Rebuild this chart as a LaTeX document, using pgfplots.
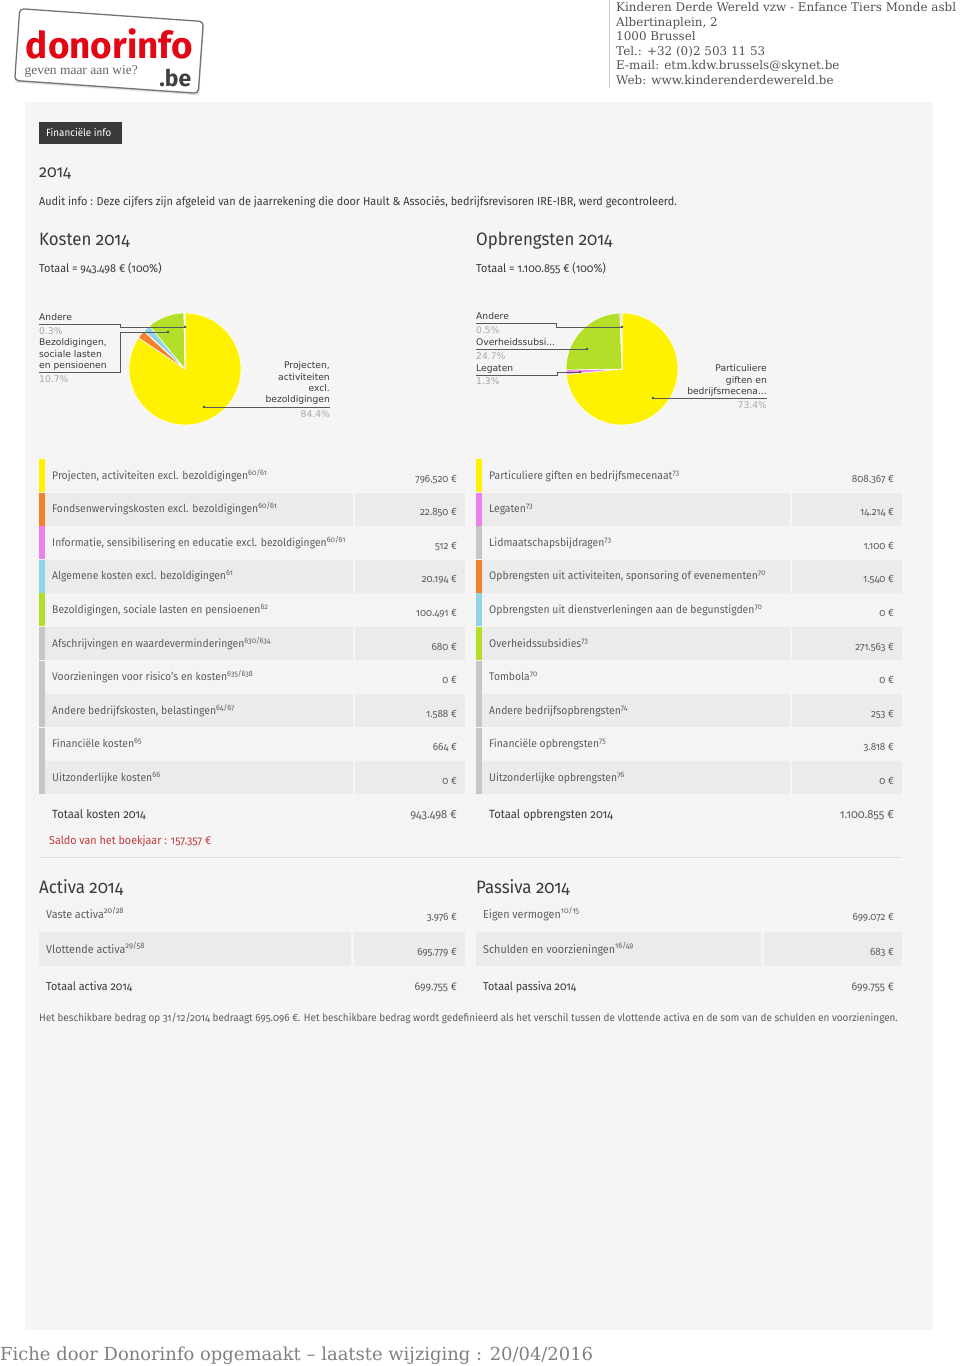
\documentclass[border=0pt]{standalone}
\usepackage{pgfplots}
\pgfplotsset{compat=1.18}
\usepackage{fontspec}
\setmainfont{Fira Sans}[Numbers=OldStyle, FakeStretch=0.94]
\newfontfamily\piefont{DejaVu Sans}
\newfontfamily\seriffont{DejaVu Serif}
\newfontfamily\logofont{Fira Sans}
\newfontfamily\logoserif{Liberation Serif}
\definecolor{panel}{HTML}{F5F5F5}
\definecolor{rowlight}{HTML}{F4F4F4}
\definecolor{rowdark}{HTML}{EBEBEB}
\definecolor{txt}{HTML}{5E5E5E}
\definecolor{dark}{HTML}{3A3A3A}
\definecolor{pyellow}{HTML}{FFF200}
\definecolor{porange}{HTML}{F5802A}
\definecolor{ppink}{HTML}{EE80EE}
\definecolor{pblue}{HTML}{90D4E6}
\definecolor{pgreen}{HTML}{B3DF28}
\definecolor{pgray}{HTML}{C6C6C6}
\definecolor{pandere}{HTML}{DADADA}
\definecolor{logored}{HTML}{E30613}
\definecolor{saldo}{HTML}{C43A3A}
\newcommand\sups[1]{\textsuperscript{#1}}
\newcommand\fs[1]{\fontsize{#1}{#1}\selectfont}
% table row: #1 x0, #2 xsplit, #3 x1, #4 ytop, #5 bg, #6 bar, #7 label, #8 value
\newcommand\trow[8]{%
  \fill[#5] (#1,-#4) rectangle (#2,-#4-33);
  \fill[#5] (#2+2,-#4) rectangle (#3,-#4-33);
  \fill[#6] (#1,-#4) rectangle (#1+6,-#4-33);
  \node[anchor=base west, inner sep=0, text=txt, font=\fs{11.1}] at (#1+13,-#4-20) {#7};
  \node[anchor=base east, inner sep=0, text=txt, font=\fs{10.6}] at (#3-8,-#4-23) {#8};
}
\newcommand\arow[8]{%
  \fill[#5] (#1,-#4) rectangle (#2,-#4-34);
  \fill[#5] (#2+3,-#4) rectangle (#3,-#4-34);
  \node[anchor=base west, inner sep=0, text=#6, font=\fs{#8}] at (#1+7,-#4-21) {#7};
}
\newcommand\drawpie[2]{%
  \gdef\cumang{90}%
  \foreach \v/\c in {#2}{%
    \pgfmathsetmacro\da{\v/#1*360}%
    \pgfmathsetmacro\enda{\cumang-\da}%
    \edef\tmp{\noexpand\fill[\c, draw=white, line width=0.6pt] (axis cs:0,0) -- ++(\cumang:56bp) arc[start angle=\cumang, end angle=\enda, radius=56bp] -- cycle;}%
    \tmp
    \xdef\cumang{\enda}%
  }%
}
\tikzset{pl/.style={anchor=base west, inner sep=0, text=dark, font=\piefont\fs{9.2}},
  pr/.style={anchor=base east, inner sep=0, text=dark, font=\piefont\fs{9.2}},
  pct/.style={text=black!35},
  lead/.style={draw=black!65, line width=0.7pt},
  dot/.style={fill=black!70}}
\begin{document}
\begin{tikzpicture}[x=1bp, y=1bp]
\path[use as bounding box] (0,0) rectangle (960,-1366);
\fill[white] (0,0) rectangle (960,-1366);
\fill[panel] (25,-102) rectangle (933,-1330);
% logo
\begin{scope}[shift={(109,-51)}, rotate=-4]
  \fill[black!12] (-91,-38) rectangle (93,34);
  \draw[draw=black!55, line width=1.3pt, rounded corners=4pt, fill=white] (-92,-36) rectangle (92,36);
  \node[inner sep=0, text=logored, font=\logofont\bfseries\fs{37}] at (0,7) {donorinfo};
  \node[inner sep=0, anchor=west, text=black!60, font=\logoserif\fs{13.5}] at (-83,-26) {geven maar aan wie?};
  \node[inner sep=0, text=black!75, font=\logofont\bfseries\fs{23}] at (68,-22) {.be};
\end{scope}
% header
\draw[black!20, line width=1pt] (609,0) -- (609,-88);
\foreach \t [count=\i from 0] in {Kinderen Derde Wereld vzw - Enfance Tiers Monde asbl, {Albertinaplein, 2}, 1000 Brussel, Tel.: +32 (0)2 503 11 53, E-mail: etm.kdw.brussels@skynet.be, Web: www.kinderenderdewereld.be}
  \node[anchor=base west, inner sep=0, text=black!68, font=\seriffont\fs{12}] at (616,-11.5-14.6*\i) {\t};
% tab
\fill[dark] (39,-122) rectangle (122,-144);
\node[anchor=base west, inner sep=0, text=white, font=\fs{10.5}] at (46,-136.5) {Financiële info};
\node[anchor=base west, inner sep=0, text=dark, font=\fs{17}] at (39,-178) {2014};
\node[anchor=base west, inner sep=0, text=dark, font=\fs{11.6}] at (39,-206) {Audit info : Deze cijfers zijn afgeleid van de jaarrekening die door Hault \& Associés, bedrijfsrevisoren IRE-IBR, werd gecontroleerd.};
\node[anchor=base west, inner sep=0, text=dark, font=\fs{18}] at (39,-246) {Kosten 2014};
\node[anchor=base west, inner sep=0, text=dark, font=\fs{18}] at (476,-246) {Opbrengsten 2014};
\node[anchor=base west, inner sep=0, text=dark, font=\fs{11.6}] at (39,-273) {Totaal = 943.498 € (100\%)};
\node[anchor=base west, inner sep=0, text=dark, font=\fs{11.6}] at (476,-273) {Totaal = 1.100.855 € (100\%)};
% pie 1
\begin{axis}[at={(185bp,-369bp)}, anchor=center, scale only axis, width=112bp, height=112bp,
  hide axis, xmin=-1, xmax=1, ymin=-1, ymax=1, clip=false]
  \addplot[draw=none] coordinates {(0,0)};
  \drawpie{943.498}{796.520/pyellow, 22.850/porange, 0.512/ppink, 20.194/pblue, 100.491/pgreen, 2.932/pandere}
\end{axis}
% pie 2
\begin{axis}[at={(622bp,-369bp)}, anchor=center, scale only axis, width=112bp, height=112bp,
  hide axis, xmin=-1, xmax=1, ymin=-1, ymax=1, clip=false]
  \addplot[draw=none] coordinates {(0,0)};
  \drawpie{1100.855}{808.367/pyellow, 14.214/ppink, 271.563/pgreen, 6.711/pandere}
\end{axis}
% pie 1 labels
\node[pl] at (39,-320) {Andere};
\node[pl,pct] at (39,-334.5) {0.3\%};
\node[pl] at (39,-345.5) {Bezoldigingen,};
\node[pl] at (39,-357) {sociale lasten};
\node[pl] at (39,-368.5) {en pensioenen};
\node[pl,pct] at (39,-382.5) {10.7\%};
\draw[lead] (39,-324) -- (120,-324) -- (120,-327) -- (185,-327);
\fill[dot] (185,-327) circle (1.3);
\draw[lead] (39,-372) -- (120,-372) -- (120,-332) -- (168,-332);
\fill[dot] (168,-332) circle (1.3);
\node[pr] at (330,-368.5) {Projecten,};
\node[pr] at (330,-380) {activiteiten};
\node[pr] at (330,-391.5) {excl.};
\node[pr] at (330,-402.5) {bezoldigingen};
\node[pr,pct] at (330,-417.5) {84.4\%};
\draw[lead] (204,-407) -- (330,-407);
\fill[dot] (204,-407) circle (1.3);
% pie 2 labels
\node[pl] at (476,-319.5) {Andere};
\node[pl,pct] at (476,-333.5) {0.5\%};
\node[pl] at (476,-345.5) {Overheidssubsi...};
\node[pl,pct] at (476,-359.5) {24.7\%};
\node[pl] at (476,-371.5) {Legaten};
\node[pl,pct] at (476,-384.5) {1.3\%};
\draw[lead] (476,-323) -- (556,-323) -- (556,-327) -- (622,-327);
\fill[dot] (622,-327) circle (1.3);
\draw[lead] (476,-349) -- (587,-349);
\fill[dot] (587,-349) circle (1.3);
\draw[lead] (476,-375) -- (557,-375) -- (557,-372) -- (580,-372);
\fill[dot] (580,-372) circle (1.3);
\node[pr] at (767,-371.5) {Particuliere};
\node[pr] at (767,-383) {giften en};
\node[pr] at (767,-394.5) {bedrijfsmecena...};
\node[pr,pct] at (767,-408.5) {73.4\%};
\draw[lead] (653,-398) -- (767,-398);
\fill[dot] (653,-398) circle (1.3);
% left table
\trow{39}{353}{465}{459}{rowlight}{pyellow}{Projecten, activiteiten excl. bezoldigingen\sups{60/61}}{796.520 €}
\trow{39}{353}{465}{492.6}{rowdark}{porange}{Fondsenwervingskosten excl. bezoldigingen\sups{60/61}}{22.850 €}
\trow{39}{353}{465}{526.2}{rowlight}{ppink}{Informatie, sensibilisering en educatie excl. bezoldigingen\sups{60/61}}{512 €}
\trow{39}{353}{465}{559.8}{rowdark}{pblue}{Algemene kosten excl. bezoldigingen\sups{61}}{20.194 €}
\trow{39}{353}{465}{593.4}{rowlight}{pgreen}{Bezoldigingen, sociale lasten en pensioenen\sups{62}}{100.491 €}
\trow{39}{353}{465}{627}{rowdark}{pgray}{Afschrijvingen en waardeverminderingen\sups{630/634}}{680 €}
\trow{39}{353}{465}{660.6}{rowlight}{pgray}{Voorzieningen voor risico's en kosten\sups{635/638}}{0 €}
\trow{39}{353}{465}{694.2}{rowdark}{pgray}{Andere bedrijfskosten, belastingen\sups{64/67}}{1.588 €}
\trow{39}{353}{465}{727.8}{rowlight}{pgray}{Financiële kosten\sups{65}}{664 €}
\trow{39}{353}{465}{761.4}{rowdark}{pgray}{Uitzonderlijke kosten\sups{66}}{0 €}
\fill[rowlight] (39,-795) rectangle (353,-830);
\fill[rowlight] (355,-795) rectangle (465,-830);
\node[anchor=base west, inner sep=0, text=dark, font=\fs{12}] at (52,-818.5) {Totaal kosten 2014};
\node[anchor=base east, inner sep=0, text=txt, font=\fs{12}] at (457,-818.5) {943.498 €};
% right table
\trow{476}{790}{902}{459}{rowlight}{pyellow}{Particuliere giften en bedrijfsmecenaat\sups{73}}{808.367 €}
\trow{476}{790}{902}{492.6}{rowdark}{ppink}{Legaten\sups{73}}{14.214 €}
\trow{476}{790}{902}{526.2}{rowlight}{pgray}{Lidmaatschapsbijdragen\sups{73}}{1.100 €}
\trow{476}{790}{902}{559.8}{rowdark}{porange}{Opbrengsten uit activiteiten, sponsoring of evenementen\sups{70}}{1.540 €}
\trow{476}{790}{902}{593.4}{rowlight}{pblue}{Opbrengsten uit dienstverleningen aan de begunstigden\sups{70}}{0 €}
\trow{476}{790}{902}{627}{rowdark}{pgreen}{Overheidssubsidies\sups{73}}{271.563 €}
\trow{476}{790}{902}{660.6}{rowlight}{pgray}{Tombola\sups{70}}{0 €}
\trow{476}{790}{902}{694.2}{rowdark}{pgray}{Andere bedrijfsopbrengsten\sups{74}}{253 €}
\trow{476}{790}{902}{727.8}{rowlight}{pgray}{Financiële opbrengsten\sups{75}}{3.818 €}
\trow{476}{790}{902}{761.4}{rowdark}{pgray}{Uitzonderlijke opbrengsten\sups{76}}{0 €}
\fill[rowlight] (476,-795) rectangle (790,-830);
\fill[rowlight] (792,-795) rectangle (902,-830);
\node[anchor=base west, inner sep=0, text=dark, font=\fs{12}] at (489,-818.5) {Totaal opbrengsten 2014};
\node[anchor=base east, inner sep=0, text=txt, font=\fs{12}] at (894,-818.5) {1.100.855 €};
% saldo
\node[anchor=base west, inner sep=0, text=saldo, font=\fs{11.5}] at (49,-844) {Saldo van het boekjaar : 157.357 €};
\draw[black!12, line width=1pt] (39,-857) -- (902,-857);
% activa / passiva
\node[anchor=base west, inner sep=0, text=dark, font=\fs{18}] at (39,-893) {Activa 2014};
\node[anchor=base west, inner sep=0, text=dark, font=\fs{18}] at (476,-893) {Passiva 2014};
\arow{39}{351}{465}{897}{rowlight}{txt}{Vaste activa\sups{20/28}}{11.5}
\arow{39}{351}{465}{932}{rowdark}{txt}{Vlottende activa\sups{29/58}}{11.5}
\arow{39}{351}{465}{969}{rowlight}{dark}{Totaal activa 2014}{11.5}
\arow{476}{761}{902}{897}{rowlight}{txt}{Eigen vermogen\sups{10/15}}{11.5}
\arow{476}{761}{902}{932}{rowdark}{txt}{Schulden en voorzieningen\sups{16/49}}{11.5}
\arow{476}{761}{902}{969}{rowlight}{dark}{Totaal passiva 2014}{11.5}
\node[anchor=base east, inner sep=0, text=txt, font=\fs{10.6}] at (457,-920) {3.976 €};
\node[anchor=base east, inner sep=0, text=txt, font=\fs{10.6}] at (457,-955) {695.779 €};
\node[anchor=base east, inner sep=0, text=txt, font=\fs{11.2}] at (457,-990) {699.755 €};
\node[anchor=base east, inner sep=0, text=txt, font=\fs{10.6}] at (894,-920) {699.072 €};
\node[anchor=base east, inner sep=0, text=txt, font=\fs{10.6}] at (894,-955) {683 €};
\node[anchor=base east, inner sep=0, text=txt, font=\fs{11.2}] at (894,-990) {699.755 €};
\node[anchor=base west, inner sep=0, text=txt, font=\fs{10.6}] at (39,-1021.5) {Het beschikbare bedrag op 31/12/2014 bedraagt 695.096 €. Het beschikbare bedrag wordt gedefinieerd als het verschil tussen de vlottende activa en de som van de schulden en voorzieningen.};
% footer
\node[anchor=base west, inner sep=0, text=black!50, font=\seriffont\fs{18}] at (0,-1360) {Fiche door Donorinfo opgemaakt – laatste wijziging : 20/04/2016};
\end{tikzpicture}
\end{document}
